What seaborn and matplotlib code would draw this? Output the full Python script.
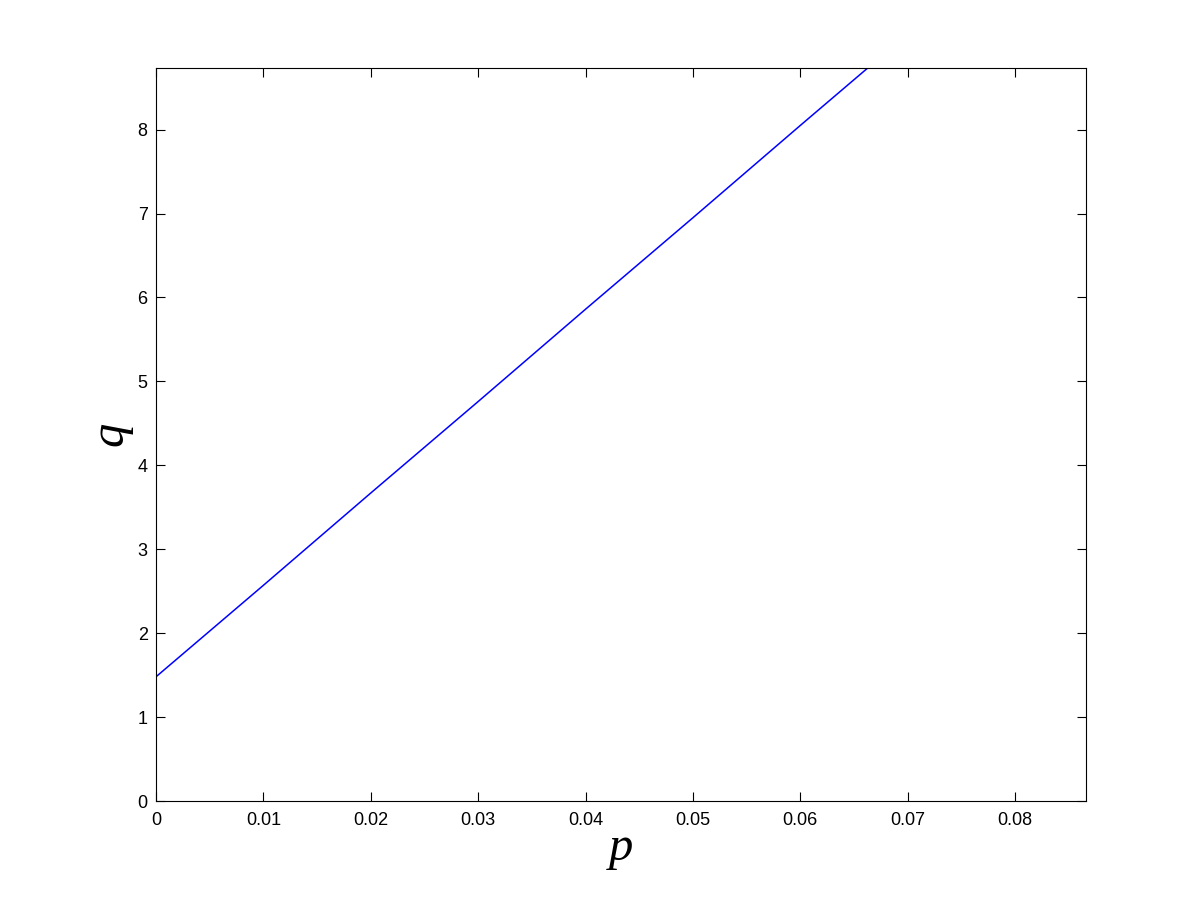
import numpy as np
import pandas as pd
import matplotlib
matplotlib.use('Agg')
import matplotlib.pyplot as plt
import seaborn as sns

# values
p_values = [0.0, 0.01, 0.02, 0.03, 0.04, 0.05, 0.06, 0.07]
q_values = [1.48, 2.57, 3.67, 4.76, 5.86, 6.95, 8.05, 9.14]
x_ticks = [0, 0.01, 0.02, 0.03, 0.04, 0.05, 0.06, 0.07, 0.08]
x_tick_labels = ['0', '0.01', '0.02', '0.03', '0.04', '0.05', '0.06', '0.07', '0.08']
y_ticks = [0, 1, 2, 3, 4, 5, 6, 7, 8]

sns.set_style('ticks')
plt.rcParams['font.family'] = ['Liberation Sans', 'DejaVu Sans']
plt.rcParams['text.color'] = 'black'
plt.rcParams['axes.labelcolor'] = 'black'

df = pd.DataFrame({'p': p_values, 'q': q_values})

fig = plt.figure(figsize=(12, 9), dpi=100)
ax = fig.add_axes([0.13, 0.11, 0.775, 0.815])

sns.lineplot(data=df, x='p', y='q', ax=ax, color='#0000ff', linewidth=1.1)

ax.set_xlim(0, 0.0866)
ax.set_ylim(0, 8.74)
ax.set_xticks(x_ticks)
ax.set_xticklabels(x_tick_labels)
ax.set_yticks(y_ticks)

for s in ax.spines.values():
    s.set_visible(True)
    s.set_linewidth(0.8)
    s.set_color('black')

ax.tick_params(direction='in', length=6.5, width=0.8, top=True, right=True,
               labelsize=13, colors='black')
ax.tick_params(axis='x', pad=8)
ax.tick_params(axis='y', pad=6)

ax.set_xlabel('p', fontsize=35, family='Liberation Serif', style='italic',
              labelpad=-2, color='black')
ax.set_ylabel('q', fontsize=35, family='Liberation Serif', style='italic',
              labelpad=4, color='black')

fig.savefig('out.png', dpi=100, facecolor='white')
